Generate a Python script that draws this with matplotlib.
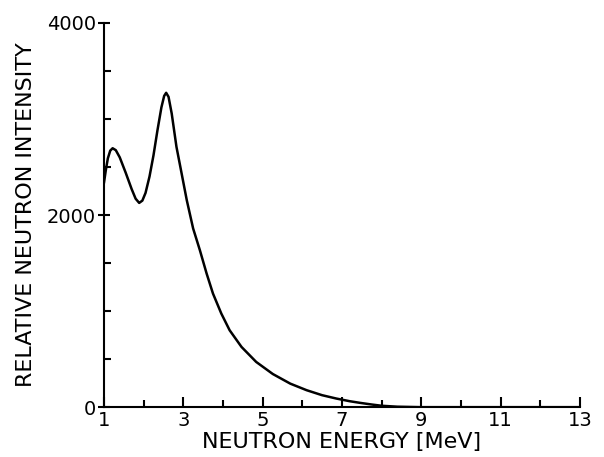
import numpy as np
import matplotlib.pyplot as plt
from matplotlib.ticker import MultipleLocator

# values
energy = [1.00, 1.05, 1.10, 1.16, 1.22, 1.30, 1.40, 1.55, 1.70, 1.80, 1.89,
          1.97, 2.05, 2.15, 2.25, 2.35, 2.45, 2.52, 2.57, 2.63, 2.71, 2.83,
          2.96, 3.09, 3.25, 3.42, 3.59, 3.75, 3.96, 4.17, 4.47, 4.84, 5.26,
          5.70, 6.11, 6.50, 6.86, 7.20, 7.46, 7.75, 8.00, 8.40, 9.00, 13.0]
intensity = [2330, 2470, 2590, 2670, 2695, 2675, 2600, 2440, 2270, 2170, 2126,
             2150, 2230, 2400, 2620, 2880, 3120, 3240, 3272, 3230, 3056, 2709,
             2432, 2154, 1860, 1634, 1391, 1183, 975, 801, 627, 471, 345,
             245, 177, 125, 90, 62, 45, 28, 15, 5, 0, 0]

x_ticks = [1, 3, 5, 7, 9, 11, 13]
y_ticks = [0, 2000, 4000]

fig = plt.figure(figsize=(6.04, 4.57), dpi=100)
ax = fig.add_axes([0.172, 0.109, 0.788, 0.841])

ax.plot(energy, intensity, c='k', lw=1.8, solid_capstyle='round',
        solid_joinstyle='round')

ax.set_xlim(1, 13)
ax.set_ylim(0, 4000)
ax.spines['top'].set_visible(False)
ax.spines['right'].set_visible(False)
ax.spines['left'].set_linewidth(1.5)
ax.spines['bottom'].set_linewidth(1.5)

ax.set_xticks(x_ticks)
ax.set_yticks(y_ticks)
ax.xaxis.set_minor_locator(MultipleLocator(1))
ax.yaxis.set_minor_locator(MultipleLocator(500))
ax.tick_params(axis='x', which='both', direction='in', width=1.5, labelsize=14, pad=3)
ax.tick_params(axis='x', which='major', length=7)
ax.tick_params(axis='x', which='minor', length=5)
ax.tick_params(axis='y', which='major', direction='inout', length=9, width=1.5,
               labelsize=14, pad=1)
ax.tick_params(axis='y', which='minor', direction='in', length=5, width=1.5)

ax.set_xlabel('NEUTRON ENERGY [MeV]', fontsize=16, labelpad=1)
ax.set_ylabel('RELATIVE NEUTRON INTENSITY', fontsize=16, labelpad=8)

plt.savefig('out.png', dpi=100)
